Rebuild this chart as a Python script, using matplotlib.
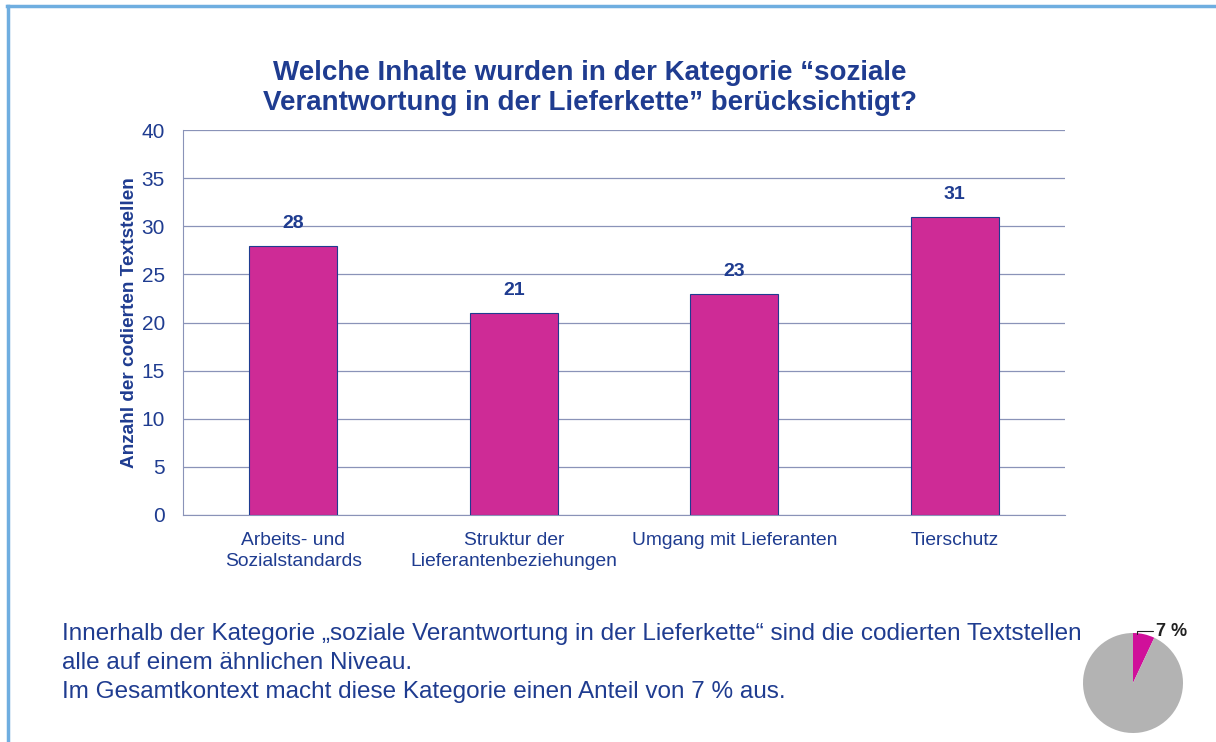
import matplotlib.pyplot as plt
import numpy as np

categories = ["Arbeits- und\nSozialstandards", "Struktur der\nLieferantenbeziehungen",
              "Umgang mit Lieferanten", "Tierschutz"]
counts = [28, 21, 23, 31]
share_values = [7, 93]
share_label = "7 %"

navy = "#1F3C90"
pink = "#CE2B96"
grid_col = "#8A93B8"

plt.rcParams['font.family'] = ['Liberation Sans', 'DejaVu Sans']

fig = plt.figure(figsize=(12.16, 7.42), dpi=100)

# frame lines (top and left) of the slide
fig.add_artist(plt.Line2D([7 / 1216, 1], [1 - 6 / 742, 1 - 6 / 742], color="#6FAEE0", lw=2.5))
fig.add_artist(plt.Line2D([8 / 1216, 8 / 1216], [0, 1 - 6 / 742], color="#6FAEE0", lw=2.5))

ax = fig.add_axes([183 / 1216, 1 - 515 / 742, 882 / 1216, 385 / 742])
x = np.arange(len(categories))
ax.bar(x, counts, width=0.4, color=pink, edgecolor=navy, linewidth=0.8, zorder=3)
ax.set_xlim(-0.5, len(categories) - 0.5)
ax.set_ylim(0, 40)
ax.set_yticks(range(0, 41, 5))
ax.yaxis.grid(True, color=grid_col, lw=0.9, zorder=0)
for s in ["top", "right"]:
    ax.spines[s].set_visible(False)
ax.spines["left"].set_color(grid_col)
ax.spines["bottom"].set_color(grid_col)
ax.tick_params(axis="y", length=0, labelsize=15, labelcolor=navy, pad=13)
ax.tick_params(axis="x", length=0, labelsize=13.9, labelcolor=navy, pad=12)
ax.set_xticks(x)
ax.set_xticklabels(categories, linespacing=1.3)
ax.set_ylabel("Anzahl der codierten Textstellen", fontsize=13.7, fontweight="bold", color=navy)
ax.yaxis.set_label_coords(-0.051, 0.5)
for xi, v in zip(x, counts):
    ax.text(xi, v + 2.3, str(v), ha="center", va="center", fontsize=14,
            fontweight="bold", color=navy)

fig.text(590 / 1216, 1 - 88 / 742,
         "Welche Inhalte wurden in der Kategorie \u201csoziale\nVerantwortung in der Lieferkette\u201d berücksichtigt?",
         ha="center", va="center", fontsize=20, fontweight="bold", color=navy, linespacing=1.2)

fig.text(62 / 1216, 1 - 663 / 742,
         "Innerhalb der Kategorie \u201esoziale Verantwortung in der Lieferkette\u201c sind die codierten Textstellen\n"
         "alle auf einem ähnlichen Niveau.\n"
         "Im Gesamtkontext macht diese Kategorie einen Anteil von 7 % aus.",
         ha="left", va="center", fontsize=17.5, color=navy, linespacing=1.4)

pax = fig.add_axes([(1133 - 50) / 1216, 1 - (683 + 50) / 742, 100 / 1216, 100 / 742])
pax.pie(share_values, colors=["#D0109A", "#B3B3B3"], startangle=90, counterclock=False,
        wedgeprops=dict(linewidth=0))
pax.set_xlim(-1, 1)
pax.set_ylim(-1, 1)
pax.set_aspect("equal")
pax.annotate(share_label, xy=(0.07, 0.98), xytext=(0.45, 1.04),
             fontsize=13, fontweight="bold", color="#222222", ha="left", va="center",
             arrowprops=dict(arrowstyle="-", color="#222222", lw=0.8, shrinkA=0, shrinkB=0,
                             connectionstyle="angle,angleA=0,angleB=90,rad=0"),
             annotation_clip=False)

fig.savefig("out.png", dpi=100, facecolor="white")
